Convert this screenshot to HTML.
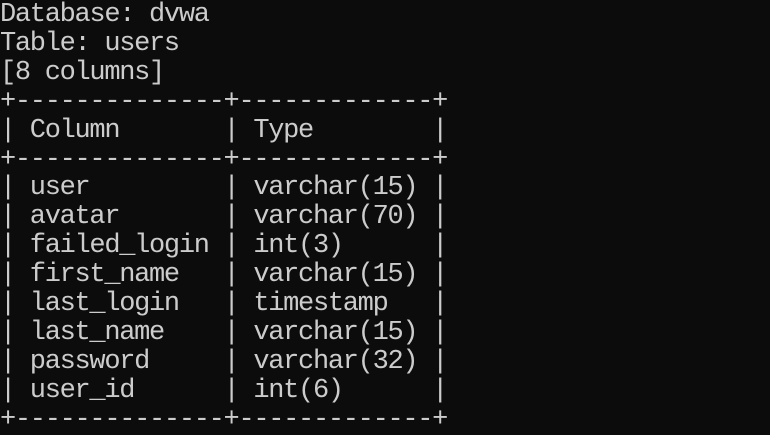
<!DOCTYPE html>
<html><head><meta charset="utf-8"><style>
html,body{margin:0;padding:0;background:#0c0c0c;width:770px;height:434px;overflow:hidden}
pre{margin:0;position:absolute;left:0;top:1px;font-family:"Liberation Mono",monospace;font-size:27px;letter-spacing:-1.3px;line-height:28.9px;color:#cccccc}
</style></head><body><pre>Database: dvwa
Table: users
[8 columns]
+--------------+-------------+
| Column       | Type        |
+--------------+-------------+
| user         | varchar(15) |
| avatar       | varchar(70) |
| failed_login | int(3)      |
| first_name   | varchar(15) |
| last_login   | timestamp   |
| last_name    | varchar(15) |
| password     | varchar(32) |
| user_id      | int(6)      |
+--------------+-------------+</pre></body></html>
